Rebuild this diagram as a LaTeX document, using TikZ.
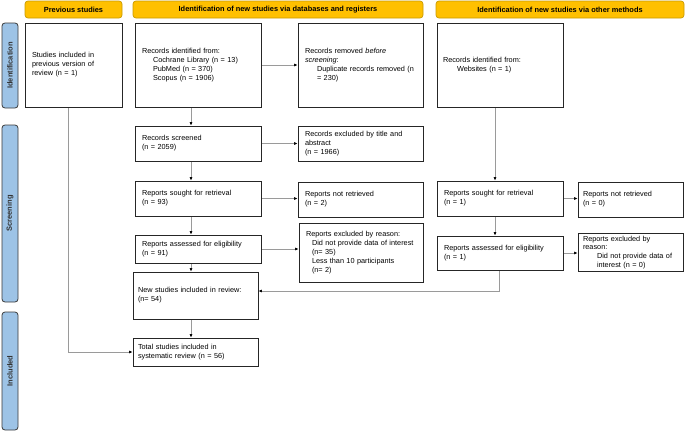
\documentclass[tikz,border=0pt]{standalone}
\usepackage{fontspec}
\setmainfont{Liberation Sans}
\usetikzlibrary{arrows.meta,backgrounds}
\pgfdeclarelayer{edgelayer}
\pgfdeclarelayer{nodelayer}
\pgfsetlayers{edgelayer,nodelayer,main}
\definecolor{headyellow}{HTML}{FFC000}
\definecolor{headedge}{HTML}{C99A00}
\definecolor{barblue}{HTML}{9DC3E6}
\definecolor{baredge}{HTML}{3A3A3A}
\definecolor{lineedge}{HTML}{9A9A9A}
\tikzset{font=\fontsize{7.3}{8.9}\selectfont}
\tikzstyle{box}=[draw=black!85,line width=0.8pt,rectangle,inner xsep=7pt,inner ysep=2pt,align=left]
\tikzstyle{head}=[draw=headedge,fill=headyellow,line width=0.7pt,rounded corners=3pt,font=\fontsize{7.4}{8}\selectfont\bfseries,minimum height=17pt,inner sep=0pt]
\tikzstyle{bar}=[draw=baredge,fill=barblue,line width=0.8pt,rounded corners=3pt,rotate=90,font=\fontsize{7.5}{8}\selectfont\bfseries,text=black!80,minimum height=16pt,inner sep=0pt]
\tikzstyle{arr}=[draw=lineedge,line width=0.6pt,-{Latex[length=3.5pt,width=3pt,color=black]}]
\newcommand{\ind}[1]{\hspace*{#1pt}}

\begin{document}
\begin{tikzpicture}[x=1pt,y=-1pt]
	\useasboundingbox (0,0) rectangle (685,431);
	\begin{pgfonlayer}{nodelayer}
		% headers and phase bars
		\node [style=head, minimum width=97pt] (headPrev) at (73.5, 9.5) {Previous studies};
		\node [style=head, minimum width=290pt] (headDB) at (278, 9.5) {Identification of new studies via databases and registers};
		\node [style=head, minimum width=248pt] (headOther) at (560, 9.5) {Identification of new studies via other methods};
		\node [style=bar, minimum width=85pt] (barId) at (10, 65.5) {Identification};
		\node [style=bar, minimum width=177pt] (barScr) at (10, 213.5) {Screening};
		\node [style=bar, minimum width=118pt] (barInc) at (10, 371) {Included};
		% previous studies
		\node [style=box, minimum width=97pt, text width=83pt, minimum height=84pt] (prev) at (73.5, 65) {Studies included in\\previous version of\\review (n = 1)};
		% databases and registers
		\node [style=box, minimum width=126pt, text width=112pt, minimum height=84pt] (recid) at (198, 65) {Records identified from:\\\ind{11}Cochrane Library (n = 13)\\\ind{11}PubMed (n = 370)\\\ind{11}Scopus (n = 1906)};
		\node [style=box, minimum width=125pt, text width=111pt, minimum height=84pt] (removed) at (360.5, 65) {Records removed \textit{before}\\\textit{screening}:\\\ind{12}\mbox{Duplicate records removed (n}\\\ind{12}= 230)};
		\node [style=box, minimum width=126pt, text width=112pt, minimum height=35pt] (screened) at (198, 143.5) {Records screened\\(n = 2059)};
		\node [style=box, minimum width=125pt, text width=111pt, minimum height=35pt] (exclTA) at (360.5, 143.5) {\mbox{Records excluded by title and}\\abstract\\(n = 1966)};
		\node [style=box, minimum width=126pt, text width=112pt, minimum height=35pt] (sought) at (198, 198.5) {Reports sought for retrieval\\(n = 93)};
		\node [style=box, minimum width=125pt, text width=111pt, minimum height=35pt] (notret) at (360.5, 199.5) {Reports not retrieved\\(n = 2)};
		\node [style=box, minimum width=126pt, text width=112pt, minimum height=28pt] (assessed) at (198, 249) {\mbox{Reports assessed for eligibility}\\(n = 91)};
		\node [style=box, minimum width=124pt, text width=110pt, minimum height=59pt] (exclR) at (361, 252.5) {Reports excluded by reason:\\\ind{6}\mbox{Did not provide data of interest}\\\ind{6}(n= 35)\\\ind{6}Less than 10 participants\\\ind{6}(n= 2)};
		\node [style=box, minimum width=125pt, text width=115pt, inner xsep=5pt, minimum height=47pt] (newst) at (195.5, 295.5) {\mbox{New studies included in review:}\\(n= 54)};
		\node [style=box, minimum width=125pt, text width=115pt, inner xsep=5pt, minimum height=28pt] (total) at (195.5, 352) {Total studies included in\\\mbox{systematic review (n = 56)}};
		% other methods
		\node [style=box, minimum width=126pt, text width=114pt, inner xsep=6pt, minimum height=84pt] (web) at (500, 65) {Records identified from:\\\ind{14}Websites (n = 1)};
		\node [style=box, minimum width=126pt, text width=112pt, minimum height=35pt] (soughtO) at (500, 198.5) {Reports sought for retrieval\\(n = 1)};
		\node [style=box, minimum width=105pt, text width=95pt, inner xsep=5pt, minimum height=35pt] (notretO) at (630.5, 199.5) {Reports not retrieved\\(n = 0)};
		\node [style=box, minimum width=126pt, text width=112pt, minimum height=34pt] (assessedO) at (500, 253) {\mbox{Reports assessed for eligibility}\\(n = 1)};
		\node [style=box, minimum width=105pt, text width=95pt, inner xsep=5pt, minimum height=35pt] (exclO) at (630.5, 252.5) {Reports excluded by\\reason:\\\ind{14}\mbox{Did not provide data of}\\\ind{14}interest (n = 0)};
		\coordinate (colA) at (191, 0);
		\coordinate (colB) at (495, 0);
		\coordinate (colC) at (499, 0);
		\coordinate (colP) at (68, 0);
	\end{pgfonlayer}
	\begin{pgfonlayer}{edgelayer}
		\draw [style=arr] (recid) to (removed);
		\draw [style=arr] (recid.south -| colA) to (screened.north -| colA);
		\draw [style=arr] (screened) to (exclTA);
		\draw [style=arr] (screened.south -| colA) to (sought.north -| colA);
		\draw [style=arr] (sought.east) to (sought.east -| notret.west);
		\draw [style=arr] (sought.south -| colA) to (assessed.north -| colA);
		\draw [style=arr] (assessed.east) to (assessed.east -| exclR.west);
		\draw [style=arr] (assessed.south -| colA) to (newst.north -| colA);
		\draw [style=arr] (newst.south -| colA) to (total.north -| colA);
		\draw [style=arr] (prev.south -| colP) |- (total.west);
		\draw [style=arr] (web.south -| colB) to (soughtO.north -| colB);
		\draw [style=arr] (soughtO.east) to (soughtO.east -| notretO.west);
		\draw [style=arr] (soughtO.south -| colB) to (assessedO.north -| colB);
		\draw [style=arr] (assessedO.east) to (assessedO.east -| exclO.west);
		\draw [style=arr] (assessedO.south -| colC) |- ([yshift=4.5pt]newst.east);
	\end{pgfonlayer}
\end{tikzpicture}
\end{document}
